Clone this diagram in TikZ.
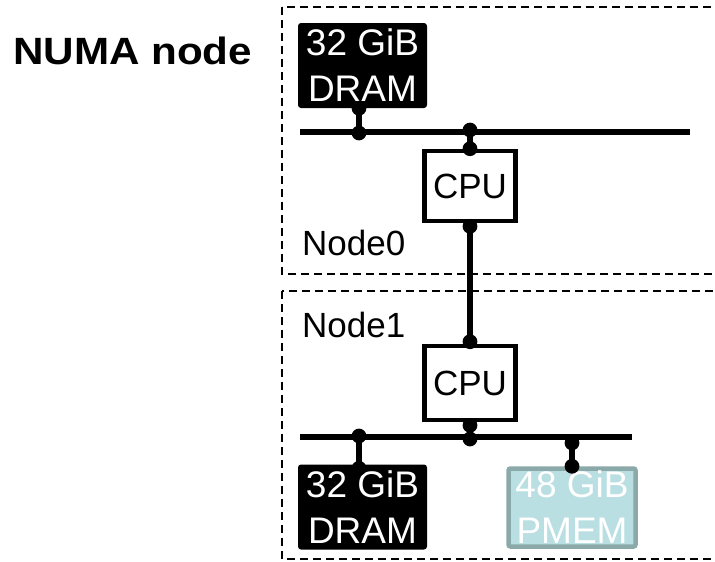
\documentclass[tikz,border=0pt]{standalone}
\usepackage{fontspec}
\setmainfont{Liberation Sans}
\begin{document}
\begin{tikzpicture}[x=1pt,y=-1pt,
  txt/.style={font=\fontsize{35}{45}\selectfont, inner sep=0pt},
  memtxt/.style={font=\fontsize{37}{46}\selectfont, inner sep=0pt},
  region/.style={draw, line width=1.9pt, dash pattern=on 8pt off 5pt},
  bus/.style={line width=5.2pt},
  link/.style={line width=5.2pt},
  cpubox/.style={txt, draw, line width=4.6pt, fill=white, minimum width=91pt, minimum height=70pt},
  drambox/.style={memtxt, align=center, fill=black, text=white, rounded corners=3pt, minimum width=129pt, minimum height=85pt},
  pmembox/.style={memtxt, align=center, draw=pmemborder, fill=pmemfill, text=white, line width=4.5pt, rounded corners=2pt, minimum width=127pt, minimum height=78pt},
  dotr/.style={radius=7.4pt}]
\definecolor{pmemfill}{RGB}{186,223,226}
\definecolor{pmemborder}{RGB}{140,169,169}
\useasboundingbox (0,0) rectangle (715,562);
\clip (0,0) rectangle (715,562);

% title
\node[inner sep=0pt, font=\fontsize{38}{40}\selectfont\bfseries, anchor=base west] (title) at (13,64) {\scalebox{1.11}[1]{NUMA node}};

% the two NUMA regions
\draw[region] (282,7) rectangle (730,274);
\draw[region] (282,291) rectangle (730,559);
\node[txt, anchor=base west] (lbl0) at (302,255) {Node0};
\node[txt, anchor=base west] (lbl1) at (302,337) {Node1};

% Node0 parts
\node[drambox] (dram0) at (362.5,65.5) {32 GiB\\DRAM};
\node[cpubox] (cpu0) at (470,186) {CPU};
\coordinate (bus0l) at (300,132);
\coordinate (bus0r) at (690,132);
\coordinate (j0d) at (359,133);
\coordinate (j0c) at (470,130);

% Node1 parts
\node[cpubox, minimum height=74pt] (cpu1) at (470,383) {CPU};
\node[drambox] (dram1) at (362.5,507) {32 GiB\\DRAM};
\node[pmembox] (pmem1) at (572,507.5) {48 GiB\\PMEM};
\coordinate (bus1l) at (300,437);
\coordinate (bus1r) at (632,437);
\coordinate (j1d) at (359,436);
\coordinate (j1c) at (470,439);
\coordinate (j1p) at (572,443);

% memory buses
\draw[bus] (bus0l) -- (bus0r);
\draw[bus] (bus1l) -- (bus1r);

% links with dotted ends
\draw[link] (dram0.south -| j0d) -- (j0d);
\fill (dram0.south -| j0d) circle[dotr] (j0d) circle[dotr];
\draw[link] (j0c) -- (cpu0.north);
\fill (j0c) circle[dotr] (cpu0.north) circle[dotr];

\draw[link] ([yshift=-3pt]cpu0.south) -- ([yshift=2pt]cpu1.north);
\fill ([yshift=-3pt]cpu0.south) circle[dotr] ([yshift=2pt]cpu1.north) circle[dotr];

\draw[link] ([yshift=-3pt]cpu1.south) -- (j1c);
\fill ([yshift=-3pt]cpu1.south) circle[dotr] (j1c) circle[dotr];
\draw[link] (j1d) -- ([yshift=-4pt]dram1.north -| j1d);
\fill (j1d) circle[dotr] ([yshift=-4pt]dram1.north -| j1d) circle[dotr];
\draw[link] (j1p) -- (pmem1.north);
\fill (j1p) circle[dotr] (pmem1.north) circle[dotr];
\end{tikzpicture}
\end{document}
